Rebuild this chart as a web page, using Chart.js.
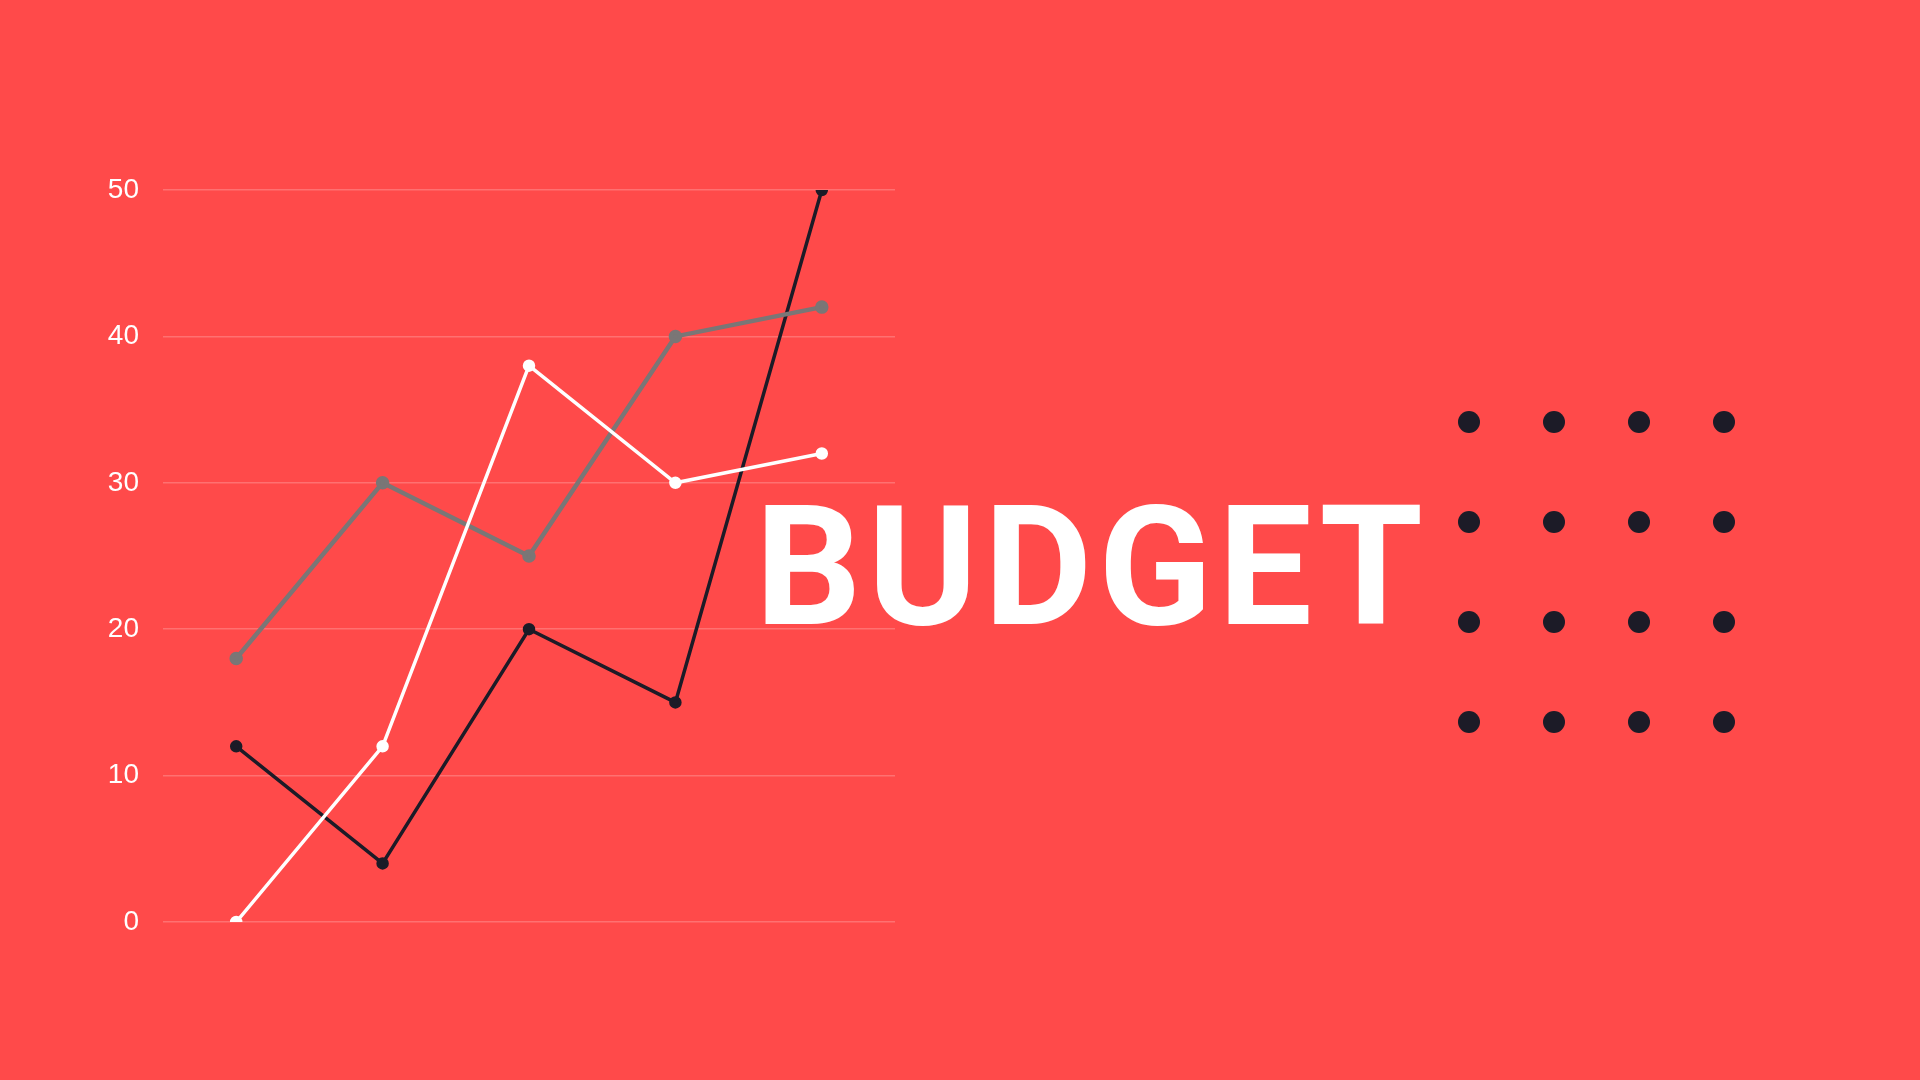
<!DOCTYPE html>
<html>
<head>
<meta charset="utf-8">
<script src="https://cdn.jsdelivr.net/npm/chart.js@4.4.1/dist/chart.umd.min.js"></script>
<style>
    html, body {
        margin: 0;
        padding: 0;
        width: 1920px;
        height: 1080px;
        overflow: hidden;
        background: #FF4A4A;
    }
    .chart-box {
        position: absolute;
        left: 0;
        top: 0;
        width: 920px;
        height: 1080px;
    }
    .title {
        position: absolute;
        left: 755px;
        top: 467px;
        font-family: Roboto, "Liberation Sans", Arial, sans-serif;
        font-weight: bold;
        font-size: 167px;
        line-height: 200px;
        letter-spacing: 6px;
        color: #ffffff;
        white-space: nowrap;
    }
    .dots {
        position: absolute;
        left: 1458px;
        top: 411px;
        display: grid;
        grid-template-columns: repeat(4, 22px);
        grid-auto-rows: 22px;
        column-gap: 63px;
        row-gap: 78px;
    }
    .dots span {
        width: 22px;
        height: 22px;
        border-radius: 50%;
        background: #1c1b27;
    }
</style>
</head>
<body>

<div class="chart-box">
    <canvas id="budgetChart"></canvas>
</div>

<div class="title">BUDGET</div>

<div class="dots" id="dots"></div>

<script>
    const labels = ["1", "2", "3", "4", "5"];

    const whiteSeries = [0, 12, 38, 30, 32];
    const greySeries = [18, 30, 25, 40, 42];
    const darkSeries = [12, 4, 20, 15, 50];

    const yTicks = [0, 10, 20, 30, 40, 50];

    // decorative dot grid on the right
    const dotsBox = document.getElementById('dots');
    for (let i = 0; i < 16; i++) {
        dotsBox.appendChild(document.createElement('span'));
    }

    const makeSet = (data, color, width) => ({
        data: data,
        borderColor: color,
        backgroundColor: color,
        pointBackgroundColor: color,
        pointBorderColor: color,
        borderWidth: width,
        pointRadius: 4.5,
        pointHoverRadius: 4.5,
        tension: 0,
        fill: false
    });

    const chart = new Chart(document.getElementById('budgetChart'), {
        type: 'line',
        data: {
            labels: labels,
            datasets: [
                makeSet(whiteSeries, '#ffffff', 3.5),
                makeSet(greySeries, '#7a7676', 4.5),
                makeSet(darkSeries, '#1c1b27', 3.5)
            ]
        },
        options: {
            responsive: true,
            maintainAspectRatio: false,
            animation: false,
            layout: {
                padding: { top: 190, bottom: 158, left: 0, right: 25 }
            },
            plugins: {
                legend: { display: false },
                tooltip: { enabled: false }
            },
            scales: {
                x: {
                    display: false,
                    offset: true
                },
                y: {
                    min: 0,
                    max: 50,
                    border: { display: false },
                    grid: {
                        color: 'rgba(255, 255, 255, 0.22)',
                        lineWidth: 1.5,
                        drawTicks: false
                    },
                    afterBuildTicks: (scale) => {
                        scale.ticks = yTicks.map(v => ({ value: v }));
                    },
                    afterFit: (scale) => {
                        scale.width = 163;
                    },
                    ticks: {
                        padding: 24,
                        color: '#ffffff',
                        font: {
                            family: '"Liberation Sans", Arial, sans-serif',
                            size: 28
                        }
                    }
                }
            }
        }
    });
</script>
</body>
</html>
